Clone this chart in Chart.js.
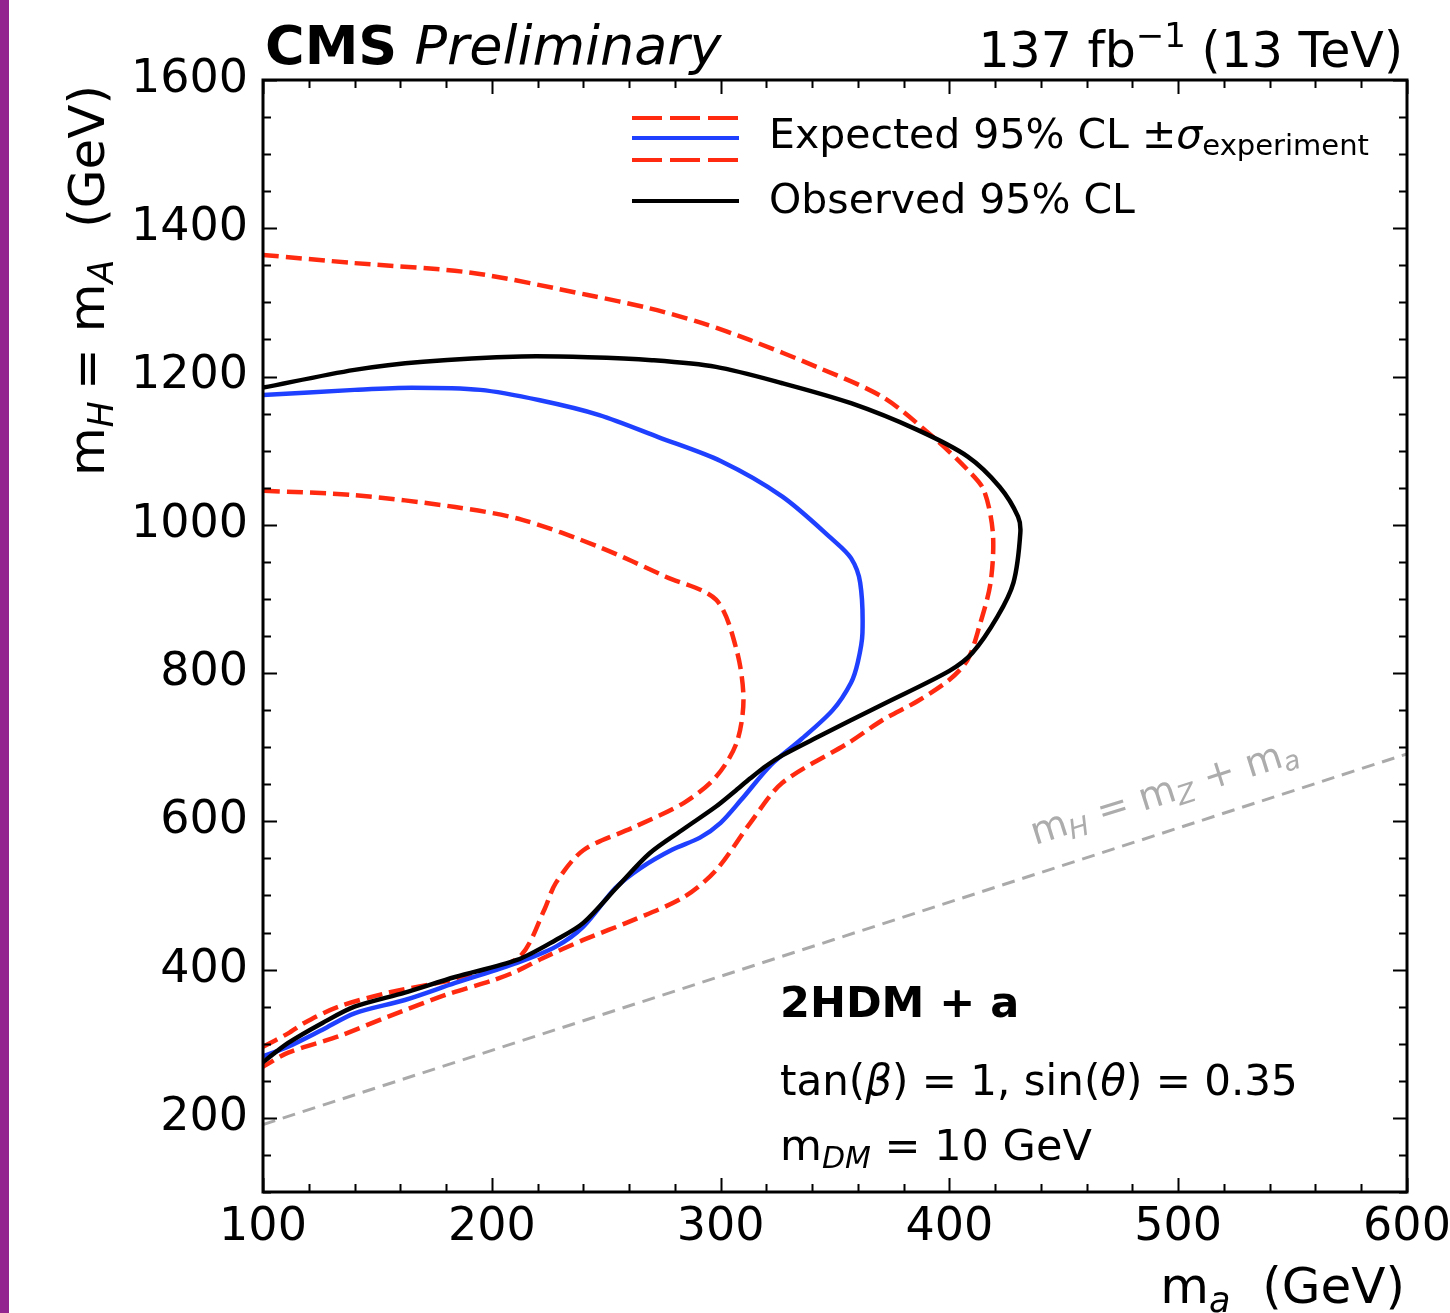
<!DOCTYPE html>
<html>
<head>
<meta charset="utf-8">
<script src="https://cdn.jsdelivr.net/npm/chart.js@4.4.1/dist/chart.umd.min.js"></script>
<style>
  html, body { margin: 0; padding: 0; background: #fff; }
  #wrap { width: 1450px; height: 1313px; }
</style>
</head>
<body>
<div id="wrap"><canvas id="limitChart" width="1450" height="1313"></canvas></div>
<script>
// contour points (m_a, m_H) in GeV
var obsX = [100, 140, 170, 213, 242, 270, 298, 327, 357, 386, 408, 422, 430, 431, 428, 421, 410, 400, 371, 342, 327, 320, 313, 306, 298, 284, 269, 255, 240, 228, 211, 184, 162, 140, 126, 111, 100];
var obsY = [1185, 1209, 1220, 1227, 1226, 1222, 1213, 1191, 1164, 1128, 1092, 1051, 1011, 989, 922, 876, 827, 803, 758, 713, 689, 675, 658, 640, 620, 590, 557, 512, 463, 440, 413, 390, 369, 350, 328, 301, 275];

var expX = [100, 140, 165, 195, 221, 247, 273, 300, 327, 349, 357, 361, 362, 360, 357, 349, 335, 322, 309, 300, 291, 279, 265, 254, 240, 228, 211, 184, 162, 140, 126, 111, 100];
var expY = [1175, 1182, 1185, 1182, 1168, 1148, 1118, 1086, 1038, 980, 955, 922, 854, 815, 787, 750, 710, 676, 629, 598, 578, 562, 537, 510, 458, 431, 409, 382, 359, 341, 319, 296, 283];

var plusX = [100, 140, 191, 242, 269, 292, 313, 342, 371, 393, 408, 415, 419, 418, 413, 408, 400, 386, 371, 356, 327, 313, 298, 284, 262, 240, 222, 211, 200, 180, 155, 133, 111, 100];
var plusY = [1364, 1353, 1340, 1310, 1292, 1272, 1249, 1213, 1172, 1118, 1074, 1047, 989, 922, 862, 818, 791, 762, 737, 706, 652, 598, 534, 498, 467, 440, 415, 398, 385, 366, 337, 310, 288, 269];

var minusX = [100, 111, 118, 133, 155, 176, 198, 213, 223, 228, 240, 262, 284, 298, 307, 310, 307, 298, 276, 247, 213, 184, 140, 100];
var minusY = [296, 314, 328, 350, 369, 382, 397, 420, 481, 517, 561, 592, 625, 660, 706, 764, 831, 899, 930, 970, 1007, 1024, 1040, 1046];

// kinematic line m_H = m_Z + m_a
var diagX = [100, 600];
var diagY = [191, 691];

var xTickLabels = [100, 200, 300, 400, 500, 600];
var yTickLabels = [200, 400, 600, 800, 1000, 1200, 1400, 1600];
var xMinorStep = 20, yMinorStep = 50;

var FONT = '"DejaVu Sans", Verdana, sans-serif';

function pts(xs, ys) { return xs.map(function (x, i) { return { x: x, y: ys[i] }; }); }

function fontOf(r) { return (r.style || '') + ' ' + (r.size || 46) + 'px ' + FONT; }
function runsWidth(ctx, runs) {
  var w = 0;
  runs.forEach(function (r) { ctx.font = fontOf(r); w += ctx.measureText(r.t).width; });
  return w;
}
function drawRuns(ctx, runs, x, y, align) {
  if (align === 'right') x -= runsWidth(ctx, runs);
  ctx.textAlign = 'left';
  ctx.textBaseline = 'alphabetic';
  runs.forEach(function (r) {
    ctx.font = fontOf(r);
    ctx.fillText(r.t, x, y + (r.dy || 0));
    x += ctx.measureText(r.t).width;
  });
}

var cmsDecor = {
  id: 'cmsDecor',
  beforeDraw: function (chart) {
    var ctx = chart.ctx;
    ctx.save();
    ctx.fillStyle = '#fff';
    ctx.fillRect(0, 0, chart.width, chart.height);
    ctx.fillStyle = '#93248f';
    ctx.fillRect(0, 0, 9, chart.height);
    ctx.restore();
  },
  afterDraw: function (chart) {
    var ctx = chart.ctx, a = chart.chartArea;
    var xs = chart.scales.x, ys = chart.scales.y;
    ctx.save();

    // inward ticks on all four sides
    ctx.strokeStyle = '#000';
    ctx.lineWidth = 2;
    ctx.beginPath();
    var v, px, len;
    for (v = xs.min; v <= xs.max; v += xMinorStep) {
      px = Math.round(xs.getPixelForValue(v)) + 0.5;
      len = xTickLabels.indexOf(v) >= 0 ? 14 : 8;
      ctx.moveTo(px, a.bottom); ctx.lineTo(px, a.bottom - len);
      ctx.moveTo(px, a.top); ctx.lineTo(px, a.top + len);
    }
    for (v = ys.min; v <= ys.max; v += yMinorStep) {
      px = Math.round(ys.getPixelForValue(v)) + 0.5;
      len = yTickLabels.indexOf(v) >= 0 ? 14 : 8;
      ctx.moveTo(a.left, px); ctx.lineTo(a.left + len, px);
      ctx.moveTo(a.right, px); ctx.lineTo(a.right - len, px);
    }
    ctx.stroke();

    // frame
    ctx.lineWidth = 3;
    ctx.strokeRect(a.left, a.top, a.right - a.left, a.bottom - a.top);

    ctx.fillStyle = '#000';
    // header
    drawRuns(ctx, [{ t: 'CMS', size: 54, style: 'bold' }, { t: ' Preliminary', size: 54, style: 'italic' }], 265, 64);
    drawRuns(ctx, [{ t: '137 fb', size: 49 }, { t: '\u22121', size: 34, dy: -20 }, { t: ' (13 TeV)', size: 49 }], 1403, 67, 'right');

    // axis titles
    drawRuns(ctx, [{ t: 'm', size: 50 }, { t: 'a', size: 35, style: 'italic', dy: 9 }, { t: '  (GeV)', size: 50 }], 1405, 1303, 'right');
    ctx.save();
    ctx.translate(104, 85);
    ctx.rotate(-Math.PI / 2);
    drawRuns(ctx, [{ t: 'm', size: 50 }, { t: 'H ', size: 35, style: 'italic', dy: 9 }, { t: '= m', size: 50 }, { t: 'A', size: 35, style: 'italic', dy: 9 }, { t: '  (GeV)', size: 50 }], 0, 0, 'right');
    ctx.restore();

    // legend
    ctx.lineWidth = 4;
    ctx.strokeStyle = '#ff2a10';
    ctx.setLineDash([30, 8]);
    ctx.beginPath();
    ctx.moveTo(632, 118); ctx.lineTo(739, 118);
    ctx.moveTo(632, 160); ctx.lineTo(739, 160);
    ctx.stroke();
    ctx.setLineDash([]);
    ctx.strokeStyle = '#2040ff';
    ctx.beginPath(); ctx.moveTo(632, 138); ctx.lineTo(739, 138); ctx.stroke();
    ctx.strokeStyle = '#000';
    ctx.beginPath(); ctx.moveTo(632, 201); ctx.lineTo(739, 201); ctx.stroke();
    drawRuns(ctx, [{ t: 'Expected 95% CL \u00b1', size: 41 }, { t: '\u03c3', size: 41, style: 'italic' }, { t: 'experiment', size: 29, dy: 7 }], 769, 148);
    drawRuns(ctx, [{ t: 'Observed 95% CL', size: 41 }], 769, 213);

    // model annotation
    drawRuns(ctx, [{ t: '2HDM + a', size: 43, style: 'bold' }], 780, 1017);
    drawRuns(ctx, [{ t: 'tan(', size: 42 }, { t: '\u03b2', size: 42, style: 'italic' }, { t: ') = 1, sin(', size: 42 }, { t: '\u03b8', size: 42, style: 'italic' }, { t: ') = 0.35', size: 42 }], 780, 1095);
    drawRuns(ctx, [{ t: 'm', size: 43 }, { t: 'DM', size: 30, style: 'italic', dy: 8 }, { t: ' = 10 GeV', size: 43 }], 780, 1160);

    // label on the kinematic line
    ctx.fillStyle = '#acacac';
    ctx.translate(1035, 845);
    ctx.rotate(-17.5 * Math.PI / 180);
    drawRuns(ctx, [{ t: 'm', size: 38 }, { t: 'H', size: 27, style: 'italic', dy: 6 }, { t: ' = m', size: 38 }, { t: 'Z', size: 27, style: 'italic', dy: 6 }, { t: ' + m', size: 38 }, { t: 'a', size: 27, style: 'italic', dy: 6 }], 0, 0);
    ctx.restore();
  }
};

function line(label, xs, ys, color, width, dash) {
  return {
    label: label, data: pts(xs, ys), showLine: true, fill: false,
    borderColor: color, borderWidth: width, borderDash: dash || [],
    pointRadius: 0, tension: 0.3
  };
}

new Chart(document.getElementById('limitChart'), {
  type: 'scatter',
  data: {
    datasets: [
      line('Observed 95% CL', obsX, obsY, '#000000', 4.5),
      line('Expected 95% CL', expX, expY, '#2040ff', 4.5),
      line('Expected +1 sigma', plusX, plusY, '#ff2a10', 4.5, [16, 7]),
      line('Expected -1 sigma', minusX, minusY, '#ff2a10', 4.5, [16, 7]),
      line('m_H = m_Z + m_a', diagX, diagY, '#aaaaaa', 3, [13, 8])
    ]
  },
  options: {
    responsive: false,
    devicePixelRatio: 1,
    animation: false,
    layout: { padding: { left: 0, right: 43, top: 80, bottom: 0 } },
    plugins: { legend: { display: false }, tooltip: { enabled: false } },
    scales: {
      x: {
        type: 'linear', min: 100, max: 600,
        afterBuildTicks: function (s) { s.ticks = xTickLabels.map(function (v) { return { value: v }; }); },
        afterFit: function (s) { s.height = 121; s.paddingLeft = 0; s.paddingRight = 0; },
        ticks: { font: { family: FONT, size: 46 }, color: '#000', padding: 8, maxRotation: 0, autoSkip: false, callback: function (v) { return String(v); } },
        grid: { display: false, drawTicks: false },
        border: { display: false }
      },
      y: {
        type: 'linear', min: 100, max: 1600,
        afterBuildTicks: function (s) { s.ticks = yTickLabels.map(function (v) { return { value: v }; }); },
        afterFit: function (s) { s.width = 263; s.paddingTop = 0; s.paddingBottom = 0; },
        ticks: { font: { family: FONT, size: 46 }, color: '#000', padding: 15, autoSkip: false, callback: function (v) { return String(v); } },
        grid: { display: false, drawTicks: false },
        border: { display: false }
      }
    }
  },
  plugins: [cmsDecor]
});
</script>
</body>
</html>
